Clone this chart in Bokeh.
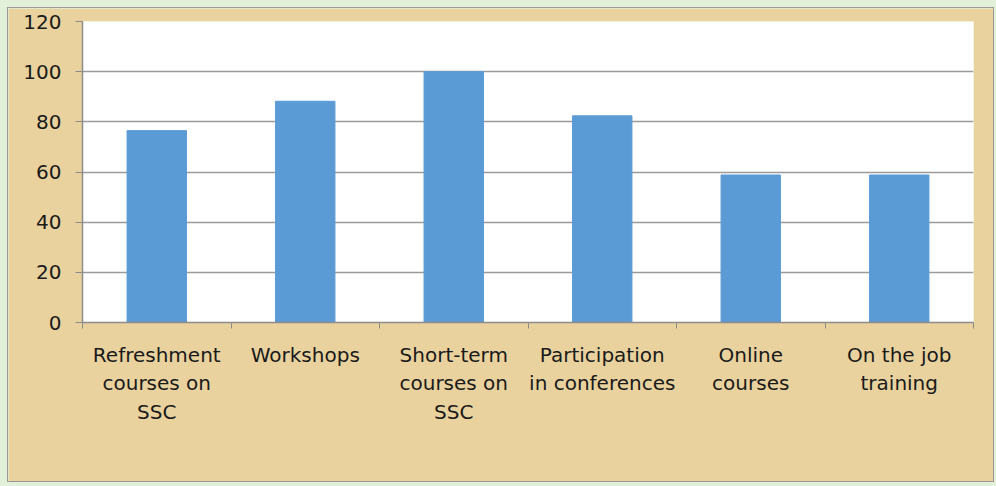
import re
from bokeh.plotting import figure
from bokeh.models import Range1d, FixedTicker
from bokeh.embed import file_html
from bokeh.resources import INLINE

categories = ["Refreshment\ncourses on\nSSC", "Workshops", "Short-term\ncourses on\nSSC",
              "Participation\nin conferences", "Online\ncourses", "On the job\ntraining"]
values = [76.5, 88.2, 100.0, 82.4, 58.8, 58.8]
y_ticks = [0, 20, 40, 60, 80, 100, 120]

n = len(categories)
centers = [i + 0.5 for i in range(n)]
bounds = list(range(n + 1))

p = figure(width=987, height=475, output_backend="svg", toolbar_location=None,
           x_range=Range1d(0, n), y_range=Range1d(0, 120),
           min_border_left=74, min_border_right=22, min_border_top=13, min_border_bottom=161)

p.background_fill_color = "white"
p.border_fill_color = "#E9D29E"
p.outline_line_color = None
p.styles = {"border": "1px solid #9a9a9a"}

p.vbar(x=centers, top=values, width=0.4, fill_color="#5B9BD5", line_color="#5B9BD5")

font = "DejaVu Sans"
# x axis
p.xaxis.ticker = FixedTicker(ticks=centers, minor_ticks=bounds)
p.xaxis.major_label_overrides = {c: lab for c, lab in zip(centers, categories)}
p.xaxis.major_tick_out = 0
p.xaxis.major_tick_in = 0
p.xaxis.minor_tick_out = 6
p.xaxis.minor_tick_in = 0
p.xaxis.minor_tick_line_color = "#8c8c8c"
p.xaxis.axis_line_color = "#8c8c8c"
p.xaxis.axis_line_width = 1.5
p.xaxis.major_label_text_font = font
p.xaxis.major_label_text_font_size = "20px"
p.xaxis.major_label_text_color = "#1a1a1a"
p.xaxis.major_label_text_line_height = 1.2
p.xaxis.major_label_standoff = 14
p.xaxis.major_label_orientation = "horizontal"

# y axis
p.yaxis.ticker = FixedTicker(ticks=y_ticks)
p.yaxis.minor_tick_line_color = None
p.yaxis.major_tick_out = 7
p.yaxis.major_tick_in = 0
p.yaxis.major_tick_line_color = "#8c8c8c"
p.yaxis.axis_line_color = "#8c8c8c"
p.yaxis.axis_line_width = 1.5
p.yaxis.major_label_text_font = font
p.yaxis.major_label_text_font_size = "20px"
p.yaxis.major_label_text_color = "#1a1a1a"
p.yaxis.major_label_standoff = 14

p.xgrid.grid_line_color = None
p.ygrid.ticker = FixedTicker(ticks=y_ticks)
p.ygrid.grid_line_color = "#9a9a9a"
p.ygrid.grid_line_width = 1.5

html = file_html(p, INLINE)
style = ("<style>html{background:#E2EFD9 !important;overflow:hidden;}"
         "body{margin:0 !important;padding:7px !important;background:#E2EFD9 !important;}</style>")
html = html.replace("</head>", style + "</head>", 1)
open("out.html", "w").write(html)
